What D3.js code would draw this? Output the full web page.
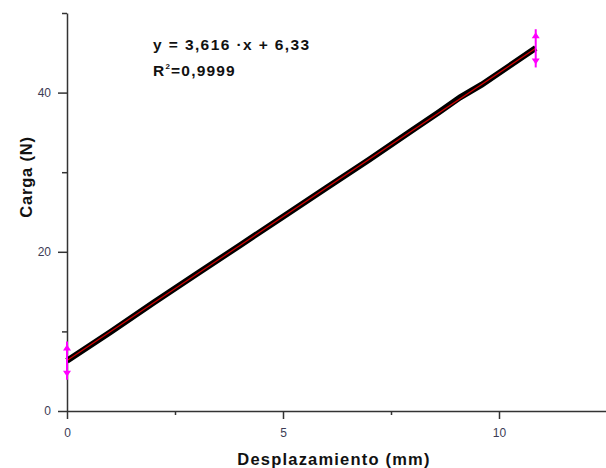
<!DOCTYPE html>
<html>
<head>
<meta charset="utf-8">
<script src="https://cdn.jsdelivr.net/npm/d3@7"></script>
<style>
    body { margin: 0; background: #fff; }
    .tick text { font-family: "Liberation Sans", Arial, sans-serif; font-size: 12px; fill: #3c3c55; }
    .axis path, .axis line { stroke: #333; stroke-width: 1.5px; }
    .axis-title { font-family: "Liberation Sans", Arial, sans-serif; font-weight: bold; font-size: 16.5px; fill: #111; }
    .fit-label { font-family: "Liberation Sans", Arial, sans-serif; font-weight: bold; font-size: 15.5px; fill: #111; }
</style>
</head>
<body>
<div id="chart"></div>
<script>

let displacement = [0, 1, 2, 3, 4, 5, 6, 7, 8, 8.6, 9.1, 9.6, 10.2, 10.85];
let load = [6.3, 9.9, 13.6, 17.2, 20.8, 24.4, 28.0, 31.6, 35.3, 37.5, 39.4, 41.0, 43.2, 45.6];

// linear fit end points
let fitX = [0, 10.85];
let fitY = [6.33, 45.56];

// error bars at both ends: x, centre, half range
let errX = [0, 10.85];
let errY = [6.33, 45.56];
let errHalf = [2.4, 2.4];

let xMajor = [0, 5, 10];
let xMinor = [2.5, 7.5];
let yMajor = [0, 20, 40];
let yMinor = [10, 30, 50];

let eqLines = ["y = 3,616 \u00b7x + 6,33", "=0,9999"];

let margin = {top: 13, right: 0, bottom: 57, left: 67};
let width = 606 - margin.left - margin.right;
let height = 468 - margin.top - margin.bottom;

let svg = d3.select("#chart").append("svg")
    .attr("width", 606)
    .attr("height", 468)
    .append("g")
    .attr("transform", "translate(" + margin.left + "," + margin.top + ")");

let x = d3.scaleLinear().domain([0, 12.5]).range([0, width + 1]);
let y = d3.scaleLinear().domain([0, 50]).range([height, 0]);

// Axes
svg.append("g")
    .attr("class", "axis")
    .attr("transform", "translate(0," + height + ")")
    .call(d3.axisBottom(x).tickValues(xMajor).tickSize(8).tickPadding(9).tickSizeOuter(0));

svg.append("g")
    .attr("class", "axis")
    .attr("transform", "translate(0," + height + ")")
    .call(d3.axisBottom(x).tickValues(xMinor).tickSize(4).tickFormat("").tickSizeOuter(0))
    .select(".domain").remove();

svg.append("g")
    .attr("class", "axis")
    .call(d3.axisLeft(y).tickValues(yMajor).tickSize(9).tickPadding(7).tickSizeOuter(0));

svg.append("g")
    .attr("class", "axis")
    .call(d3.axisLeft(y).tickValues(yMinor).tickSize(5).tickFormat("").tickSizeOuter(0))
    .select(".domain").remove();

// Data curve
let line = d3.line()
    .x(d => x(d[0]))
    .y(d => y(d[1]));

svg.append("path")
    .datum(displacement.map((d, i) => [d, load[i]]))
    .attr("fill", "none")
    .attr("stroke", "#000")
    .attr("stroke-width", 6)
    .attr("d", line);

svg.append("path")
    .datum(fitX.map((d, i) => [d, fitY[i]]))
    .attr("fill", "none")
    .attr("stroke", "#d40000")
    .attr("stroke-width", 1.2)
    .attr("d", line);

// Error bars (double arrows)
let bars = svg.selectAll(".err")
    .data(errX.map((d, i) => ({x: d, y: errY[i], h: errHalf[i]})))
    .enter().append("g")
    .attr("class", "err")
    .attr("transform", d => "translate(" + x(d.x) + ",0)");

bars.append("line")
    .attr("y1", d => y(d.y + d.h))
    .attr("y2", d => y(d.y - d.h))
    .attr("stroke", "#ff00ff")
    .attr("stroke-width", 2);

bars.append("path")
    .attr("fill", "#ff00ff")
    .attr("d", d => {
        let t = y(d.y + d.h), b = y(d.y - d.h);
        return "M0," + (t + 3) + "L-4," + (t + 9) + "L4," + (t + 9) + "Z" +
            "M0," + (b - 3) + "L-4," + (b - 9) + "L4," + (b - 9) + "Z";
    });

// Axis titles
svg.append("text")
    .attr("class", "axis-title")
    .attr("x", 267)
    .attr("y", 452)
    .attr("text-anchor", "middle")
    .style("letter-spacing", "1.2px")
    .text("Desplazamiento (mm)");

svg.append("text")
    .attr("class", "axis-title")
    .attr("transform", "translate(-35," + 164 + ") rotate(-90)")
    .attr("text-anchor", "middle")
    .style("letter-spacing", "0.8px")
    .text("Carga (N)");

// Fit equation
svg.append("text")
    .attr("class", "fit-label")
    .attr("x", 86)
    .attr("y", 37)
    .style("letter-spacing", "1.4px")
    .text(eqLines[0]);

let r2 = svg.append("text")
    .attr("class", "fit-label")
    .attr("x", 86)
    .attr("y", 63)
    .style("letter-spacing", "1.2px");
r2.append("tspan").text("R");
r2.append("tspan").attr("dy", -7).style("font-size", "8px").text("2");
r2.append("tspan").attr("dy", 7).text(eqLines[1]);

</script>
</body>
</html>
